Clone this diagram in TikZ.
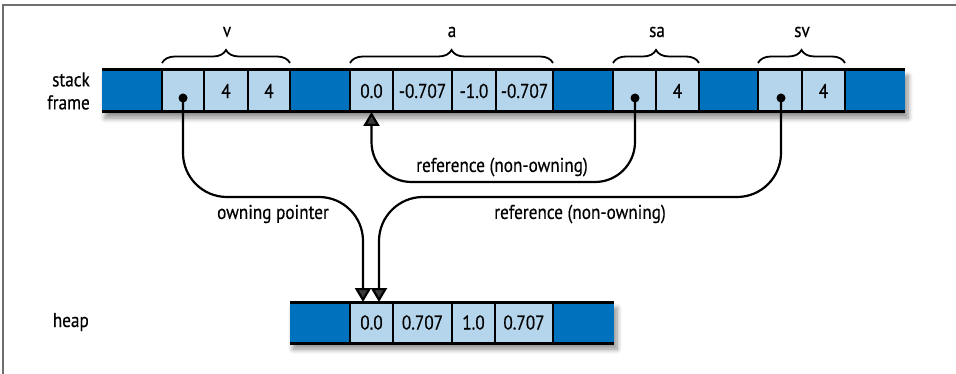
\documentclass[tikz,border=0pt]{standalone}
\usepackage{fontspec}
\setmainfont{PT Sans}[FakeStretch=0.86,FakeBold=0.4]
\usetikzlibrary{arrows.meta,decorations.pathreplacing,shadows.blur}
\definecolor{darkb}{RGB}{0,113,188}
\definecolor{lightb}{RGB}{180,213,235}
\definecolor{framegray}{RGB}{110,110,110}
\begin{document}
\begin{tikzpicture}[x=1pt,y=-1pt,
  every node/.style={font=\fontsize{20}{23}\selectfont},
  bar/.style={fill=darkb, blur shadow={shadow xshift=3pt, shadow yshift=-6pt, shadow blur steps=8, shadow blur radius=5pt, shadow opacity=45}},
  cell/.style={draw=black, line width=2, fill=lightb, minimum height=42, anchor=west, inner sep=0, outer sep=0},
  hcell/.style={cell, minimum height=41},
  edge/.style={line width=3},
  dot/.style={circle, fill=black, minimum size=9, inner sep=0},
  conn/.style={line width=2.2, rounded corners=44},
  tip/.style={-{Triangle[width=16,length=14]}},
  brc/.style={decorate, decoration={brace, amplitude=13, aspect=0.5}, line width=1.8},
  lbl/.style={inner sep=0}
]
\useasboundingbox (0,0) rectangle (956,374);
% frame border
\draw[framegray, line width=1.5] (956,5) -- (3,5) -- (3,374);

% stack frame bar
\path[bar] (102,70) rectangle (905,112);
\node[cell, minimum width=42] (v0) at (162,91) {};
\node[cell, minimum width=44] (v1) at (204,91) {4};
\node[cell, minimum width=42] (v2) at (248,91) {4};
\node[cell, minimum width=43] (a0) at (350,91) {0.0};
\node[cell, minimum width=59] (a1) at (393,91) {-0.707};
\node[cell, minimum width=44] (a2) at (452,91) {-1.0};
\node[cell, minimum width=57] (a3) at (496,91) {-0.707};
\node[cell, minimum width=43] (s0) at (613,91) {};
\node[cell, minimum width=43] (s1) at (656,91) {4};
\node[cell, minimum width=44] (w0) at (758,91) {};
\node[cell, minimum width=43] (w1) at (802,91) {4};
\draw[edge] (102,70) -- (905,70);
\draw[edge] (102,112) -- (905,112);

% heap bar
\path[bar] (290,302) rectangle (614,343);
\node[hcell, minimum width=43] (h0) at (350,322.5) {0.0};
\node[hcell, minimum width=59] (h1) at (393,322.5) {0.707};
\node[hcell, minimum width=43] (h2) at (452,322.5) {1.0};
\node[hcell, minimum width=58] (h3) at (495,322.5) {0.707};
\draw[edge] (290,302) -- (614,302);
\draw[edge] (290,343) -- (614,343);

% side labels
\node[lbl, anchor=east, align=right] (stk) at (90,91) {stack\\frame};
\node[lbl, anchor=east] (hp) at (89,322) {heap};

% braces and variable names
\draw[brc] (162,63) -- (290,63);
\draw[brc] (350,63) -- (553,63);
\draw[brc] (613,63) -- (699,63);
\draw[brc] (758,63) -- (845,63);
\node[lbl] (nv) at (227,32) {v};
\node[lbl] (na) at (452,32) {a};
\node[lbl] (nsa) at (657,32) {sa};
\node[lbl] (nsv) at (802,32) {sv};

% dots
\node[dot] (dv) at (183,98) {};
\node[dot] (ds) at (635,98) {};
\node[dot] (dw) at (781,98) {};

% connectors
\coordinate (hin1) at ([xshift=-8.5]h0.north);
\coordinate (hin2) at ([xshift=7.5]h0.north);
\draw[conn, tip] (dv.center) -- (dv.center |- 0,197) -- (hin1 |- 0,197) -- (hin1);
\draw[conn, tip] (dw.center) -- (dw.center |- 0,197) -- (hin2 |- 0,197) -- (hin2);
\draw[conn, rounded corners=40, tip] (ds.center) -- (ds.center |- 0,182) -- (a0.south |- 0,182) -- (a0.south);

% connector labels
\node[lbl] (l1) at (502,167) {reference (non-owning)};
\node[lbl] (l2) at (273,214) {owning pointer};
\node[lbl] (l3) at (580,214) {reference (non-owning)};
\end{tikzpicture}
\end{document}
